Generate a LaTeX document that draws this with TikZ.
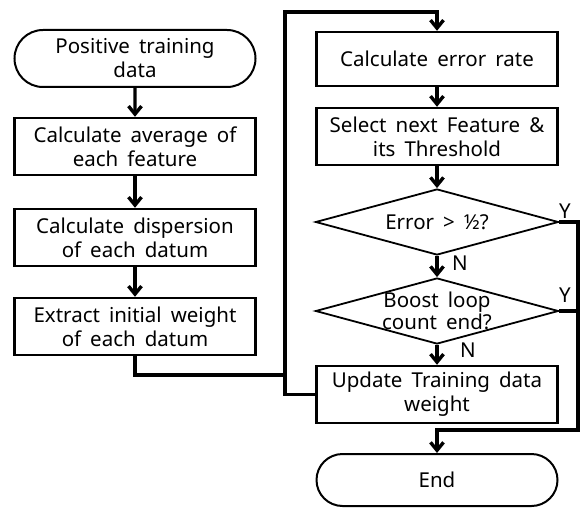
\documentclass[tikz,border=0pt]{standalone}
\usepackage{fontspec}
\setmainfont[WordSpace=1.7]{Noto Sans}
\usetikzlibrary{shapes.misc,shapes.geometric,arrows.meta}

\begin{document}
\begin{tikzpicture}[x=1pt, y=-1pt,
        font=\fontsize{20.5}{24}\selectfont,
        box/.style={draw, line width=2.4pt, rectangle, minimum width=241pt, minimum height=57pt, align=center, inner sep=0pt},
        term/.style={draw, line width=2pt, rounded rectangle, rounded rectangle arc length=180, minimum width=241pt, minimum height=57pt, align=center, inner sep=0pt},
        dec/.style={draw, line width=1.8pt, diamond, minimum width=243pt, minimum height=66pt, inner sep=0pt},
        line/.style={line width=3.4pt},
        arr/.style={line width=3.4pt, -{Straight Barb[length=8pt, width=13pt]}},
        yn/.style={inner sep=0pt, align=center},
        dtext/.style={font=\fontsize{20.5}{22}\selectfont, inner sep=0pt, align=center}]
        \useasboundingbox (0,0) rectangle (580,508);
        % 左列
        \node[term] (start) at (135,58.5) {Positive training\\data};
        \node[box] (avg) at (135,146.5) {Calculate average of\\each feature};
        \node[box] (disp) at (135,237.5) {Calculate dispersion\\of each datum};
        \node[box] (wgt) at (135,326.5) {Extract initial weight\\of each datum};
        % 右列
        \node[box, minimum height=54pt] (err) at (437,59) {Calculate error rate};
        \node[box] (sel) at (437,136.5) {Select next Feature \&\\its Threshold};
        \node[dec, label={[dtext]center:Error > ½?}] (dec1) at (437,222) {};
        \node[dec, label={[dtext]center:Boost loop\\count end?}] (dec2) at (437,311) {};
        \node[box] (upd) at (437,394.5) {Update Training data\\weight};
        \node[term, minimum height=52pt] (stop) at (437,480) {End};
        % 转折点
        \coordinate (jn) at (285,375);
        \coordinate (lp) at (285,12);
        \coordinate (rt) at (578,430);
        % 左列箭头
        \draw[arr] (start) -- (avg);
        \draw[arr] (avg) -- (disp);
        \draw[arr] (disp) -- (wgt);
        \draw[line] (wgt.south) |- (jn);
        % 循环
        \draw[arr] (upd.west) -| (lp) -| (err.north);
        \draw[arr] (err) -- (sel);
        \draw[arr] (sel) -- (dec1);
        \draw[arr] (dec1) -- (dec2);
        \draw[arr] (dec2) -- (upd);
        \draw[arr] (dec1.east) -| (rt) -| (stop.north);
        \draw[line] (dec2.east) -- (rt |- dec2.east);
        % Y / N 标记
        \node[yn] (y1) at (565,211) {Y};
        \node[yn] (y2) at (565,295) {Y};
        \node[yn] (n1) at (460,263) {N};
        \node[yn] (n2) at (468,350) {N};
\end{tikzpicture}
\end{document}
